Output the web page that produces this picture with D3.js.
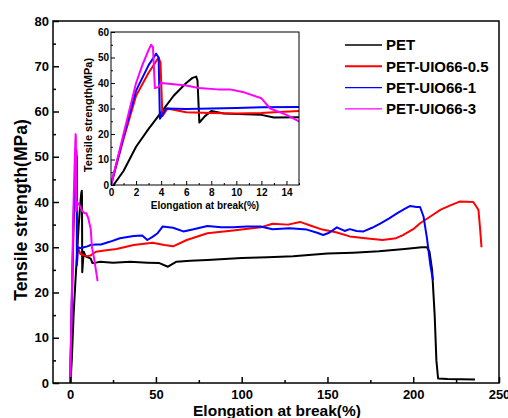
<!DOCTYPE html>
<html>
<head>
<meta charset="utf-8">
<script src="https://cdn.jsdelivr.net/npm/d3@7"></script>
<style>
  body { margin: 0; background: #fff; }
  svg { display: block; font-family: "Liberation Sans", Arial, sans-serif; font-weight: bold; }
  .line { fill: none; stroke-width: 2; stroke-linejoin: round; }
</style>
</head>
<body>
<div id="chart"></div>
<script>
(function(){
  const width = 508, height = 418;

  // series names and colours
  const seriesNames = ["PET", "PET-UIO66-0.5", "PET-UIO66-1", "PET-UIO66-3"];
  const seriesColors = ["#000000", "#ff0000", "#0000ff", "#ff00ff"];

  // [elongation %, strength MPa]
  const pet = [[0.2,0],[1,5.5],[2,15],[3,22],[4,28.5],[5,35],[6,40],[6.5,42],[6.8,42.5],[6.9,41],[7.05,24.5],[7.5,27],[8,29],[9,28],[12,27.5],[13,26.5],[15,26.6],
    [17.5,26.8],[25,26.6],[35,26.8],[45,26.6],[52,26.5],[57,25.7],[62,26.8],[70,27],[80,27.2],[95,27.5],[100,27.6],[115,27.8],[130,28],[150,28.6],[165,28.8],[180,29.1],[195,29.6],[205,30],[208,30],[209.5,29],[211,25],[212.5,15],[213.5,5],[214.5,1],[220,0.9],[236,0.8]];
  const pet05 = [[0,0],[1,18],[2,35],[3,44],[3.8,50],[3.95,48],[4.1,27],[4.5,30],[5,29.5],[6,28.5],[8,28.2],[10,28],[12,28.2],[13,28.5],[15,29],
    [20,29.3],[27,29.6],[37,30.5],[48,31],[55,30.5],[60,30.2],[68,31.6],[80,33.1],[95,33.7],[111,34.4],[118,35.2],[127,35],[134,35.6],[140,34.8],[147,33.9],[155,33.3],[163,32.4],[172,32],[182,31.6],[190,32],[194,32.7],[200,34],[204,35.3],[210,36.8],[216,38.3],[222,39.3],[227,40.1],[235,40],[238,38.3],[239,34],[239.8,30]];
  const pet1 = [[0,0],[1,19],[2,37],[3,47],[3.6,51.5],[3.8,50],[3.9,26],[4.4,30],[6,29.8],[8,30],[10,30.2],[12,30.5],[15,30.6],
    [18,30.6],[23,31.2],[29,32],[37,32.5],[42,32.6],[45,31.6],[48,32.3],[51,33.1],[54,34.6],[60,34.3],[66,33.5],[72,34],[80,34.7],[88,34.4],[95,34.4],[103,34.6],[111,34.6],[118,34],[128,34.2],[138,33.9],[144,33.2],[147.5,32.7],[151,33.2],[155.5,34.4],[160,33.6],[163,34],[167,33.6],[171,33.5],[176,34.3],[181,35.3],[186,36.4],[190.5,37.5],[195,38.5],[198,39.1],[202,38.9],[204,38.9],[206,36.8],[208,32],[210,26],[211.5,22.8]];
  const pet3 = [[0,0],[1,20],[2,40],[2.5,47],[3,53],[3.2,55],[3.35,54],[3.5,38],[3.8,38.5],[4,40],[5,39.5],[6,39],[7,38],[8.5,37.5],[9.5,37.5],[10.5,36.5],[12,34],[12.7,30],[14,27.5],[15,25],[16,22.5]];
  const seriesData = [pet, pet05, pet1, pet3];

  // axis ticks
  const mainXTicks = [0, 50, 100, 150, 200, 250];
  const mainYTicks = [0, 10, 20, 30, 40, 50, 60, 70, 80];
  const insetXTicks = [0, 2, 4, 6, 8, 10, 12, 14];
  const insetYTicks = [0, 10, 20, 30, 40, 50, 60];

  const svg = d3.select("#chart").append("svg")
    .attr("width", width).attr("height", height);

  // main plot area
  const m = { left: 53, right: 499, top: 21, bottom: 383 };
  const x = d3.scaleLinear().domain([-10, 250]).range([m.left, m.right]);
  const y = d3.scaleLinear().domain([0, 80]).range([m.bottom, m.top]);

  svg.append("defs").append("clipPath").attr("id", "mainClip")
    .append("rect").attr("x", m.left).attr("y", m.top)
    .attr("width", m.right - m.left).attr("height", m.bottom - m.top);

  const line = d3.line().x(d => x(d[0])).y(d => y(d[1]));
  const main = svg.append("g").attr("clip-path", "url(#mainClip)");
  main.selectAll("path").data(seriesData).join("path")
    .attr("class", "line")
    .attr("stroke", (d, i) => seriesColors[i])
    .attr("d", line);

  // axes with inward ticks
  function drawAxes(g, xs, ys, xt, yt, xMinor, yMinor, opts) {
    const [x0, x1] = xs.range(), [y0, y1] = ys.range();
    g.append("rect").attr("x", x0).attr("y", y1).attr("width", x1 - x0).attr("height", y0 - y1)
      .attr("fill", "none").attr("stroke", "#000").attr("stroke-width", opts.frame);
    const bx = g.append("g").attr("transform", `translate(0,${y0})`)
      .call(d3.axisBottom(xs).tickValues(xt).tickSize(-opts.major).tickPadding(opts.xpad).tickSizeOuter(0));
    const bxm = g.append("g").attr("transform", `translate(0,${y0})`)
      .call(d3.axisBottom(xs).tickValues(xMinor).tickSize(-opts.minor).tickFormat("").tickSizeOuter(0));
    const ly = g.append("g").attr("transform", `translate(${x0},0)`)
      .call(d3.axisLeft(ys).tickValues(yt).tickSize(-opts.major).tickPadding(opts.pad).tickSizeOuter(0));
    const lym = g.append("g").attr("transform", `translate(${x0},0)`)
      .call(d3.axisLeft(ys).tickValues(yMinor).tickSize(-opts.minor).tickFormat("").tickSizeOuter(0));
    [bx, bxm, ly, lym].forEach(a => {
      a.select(".domain").remove();
      a.selectAll("line").attr("stroke", "#000").attr("stroke-width", opts.frame);
      a.selectAll("text").attr("fill", "#000").style("font-size", opts.font + "px")
        .style("font-family", "'Liberation Sans', Arial, sans-serif").style("font-weight", "bold");
    });
    ly.selectAll("text").attr("x", -opts.pad);
  }

  drawAxes(svg.append("g"), x, y, mainXTicks, mainYTicks,
    [25, 75, 125, 175, 225], [5, 15, 25, 35, 45, 55, 65, 75],
    { major: 6, minor: 3, pad: 4, xpad: 7, font: 13, frame: 1.5 });

  svg.append("text").attr("x", 277).attr("y", 416).attr("text-anchor", "middle")
    .style("font-size", "15.5px").text("Elongation at break(%)");
  svg.append("text").attr("transform", "translate(27,210) rotate(-90)").attr("text-anchor", "middle")
    .style("font-size", "17.5px").text("Tensile strength(MPa)");

  // legend
  const legend = svg.append("g");
  seriesNames.forEach((name, i) => {
    const ly = 45 + i * 21.3;
    legend.append("line").attr("x1", 345).attr("x2", 382).attr("y1", ly).attr("y2", ly)
      .attr("stroke", seriesColors[i]).attr("stroke-width", i === 1 ? 2 : 1.3);
    legend.append("text").attr("x", 386).attr("y", ly + 5.3).style("font-size", "15px").text(name);
  });

  // inset
  const ins = { left: 111, right: 299, top: 32, bottom: 185 };
  const xi = d3.scaleLinear().domain([0, 15]).range([ins.left, ins.right]);
  const yi = d3.scaleLinear().domain([0, 60]).range([ins.bottom, ins.top]);
  svg.append("rect").attr("x", ins.left).attr("y", ins.top)
    .attr("width", ins.right - ins.left).attr("height", ins.bottom - ins.top).attr("fill", "#fff");
  svg.select("defs").append("clipPath").attr("id", "insetClip")
    .append("rect").attr("x", ins.left).attr("y", ins.top)
    .attr("width", ins.right - ins.left).attr("height", ins.bottom - ins.top);
  const lineI = d3.line().x(d => xi(d[0])).y(d => yi(d[1]));
  svg.append("g").attr("clip-path", "url(#insetClip)")
    .selectAll("path").data(seriesData).join("path")
    .attr("class", "line")
    .attr("stroke", (d, i) => seriesColors[i])
    .attr("d", lineI);

  drawAxes(svg.append("g"), xi, yi, insetXTicks, insetYTicks,
    [1, 3, 5, 7, 9, 11, 13, 15], [5, 15, 25, 35, 45, 55],
    { major: 4, minor: 2, pad: 2, xpad: 4, font: 10, frame: 1 });

  svg.append("text").attr("x", 205).attr("y", 209).attr("text-anchor", "middle")
    .style("font-size", "10px").text("Elongation at break(%)");
  svg.append("text").attr("transform", "translate(92,115) rotate(-90)").attr("text-anchor", "middle")
    .style("font-size", "11px").text("Tensile strength(MPa)");
})();
</script>
</body>
</html>
